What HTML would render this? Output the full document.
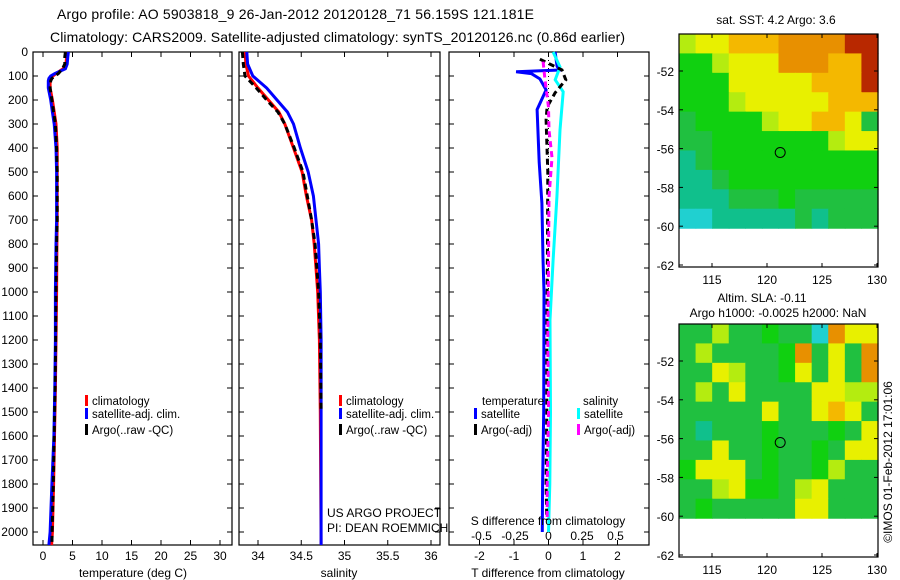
<!DOCTYPE html>
<html><head><meta charset="utf-8"><style>
html,body{margin:0;padding:0;background:#fff;width:900px;height:580px;overflow:hidden}
svg{display:block;font-family:"Liberation Sans",sans-serif}
text{font-size:12px;fill:#000}
</style></head><body>
<svg id="s" width="900" height="580" viewBox="0 0 900 580">
<text x="57" y="19" textLength="477" style="font-size:14px">Argo profile: AO 5903818_9 26-Jan-2012 20120128_71 56.159S 121.181E</text>
<text x="50" y="42" textLength="575" style="font-size:14px">Climatology: CARS2009. Satellite-adjusted climatology: synTS_20120126.nc (0.86d earlier)</text>
</svg>
<script>
// ---- data ----
const depthTicks=[0,100,200,300,400,500,600,700,800,900,1000,1100,1200,1300,1400,1500,1600,1700,1800,1900,2000];
const tempTicks=[0,5,10,15,20,25,30];
const salTicks=[34,34.5,35,35.5,36];
const salTickLabels=["34","34.5","35","35.5","36"];
const tdTicks=[-2,-1,0,1,2];
const sdTicks=[-0.5,-0.25,0,0.25,0.5];
const sdTickLabels=["-0.5","-0.25","0","0.25","0.5"];

const tDepth=[0,20,50,70,90,100,110,120,150,200,250,300,400,500,600,700,800,1000,1200,1400,1600,1800,2000,2054];
const tClim=[4.1,4.0,3.9,3.4,2.2,1.7,1.4,1.2,1.2,1.6,1.9,2.2,2.4,2.4,2.4,2.4,2.35,2.3,2.2,2.1,1.95,1.8,1.6,1.45];
const tSat=[4.3,4.2,4.1,3.8,2.0,1.3,1.0,0.9,0.9,1.3,1.6,1.9,2.2,2.3,2.3,2.3,2.2,2.1,2.1,2.0,1.85,1.5,1.2,1.0];
const tArgo=[3.8,3.7,3.7,3.3,2.6,2.0,1.5,1.3,1.2,1.5,1.8,2.1,2.3,2.4,2.4,2.4,2.3,2.2,2.15,2.05,1.9,1.75,1.55,1.5];

const sDepth=[0,50,100,150,200,250,300,400,500,600,700,800,900,1000,1200,1500,2054];
const sClim=[33.85,33.86,33.89,34.0,34.12,34.24,34.31,34.41,34.51,34.56,34.62,34.65,34.67,34.69,34.71,34.72,34.73];
const sSat=[33.87,33.88,33.94,34.1,34.22,34.34,34.41,34.49,34.58,34.64,34.67,34.70,34.71,34.72,34.73,34.73,34.73];
const sArgo=[33.82,33.83,33.85,33.98,34.1,34.23,34.31,34.42,34.52,34.57,34.62,34.66,34.68,34.70,34.72,34.73,34.73];

const dtSatDepth=[0,60,75,82,90,112,158,240,460,630,860,1000,1500,1800,2000];
const dtSat=[0.19,0.25,0.33,-0.94,-0.5,-0.25,-0.07,-0.33,-0.27,-0.19,-0.16,-0.13,-0.14,-0.17,-0.18];
const dsSatDepth=[0,62,116,166,325,604,867,1117,1500,1800,2000];
const dsSat=[0.034,0.086,0.05,0.11,0.086,0.063,0.034,0.011,0.015,0.01,0.0];
const dtArgoDepth=[30,75,116,170,229,283,500,800,1200,1500,1800,1950];
const dtArgo=[-0.25,0.39,0.5,0.19,-0.04,-0.07,-0.02,-0.03,-0.05,-0.05,-0.07,-0.05];
const dsArgoDepth=[40,116,229,325,440,604,880,1200,1500,1800,1950];
const dsArgo=[-0.04,-0.026,0,0.004,0.026,0.004,0,-0.005,0,-0.01,-0.01];

const lonTicks=[115,120,125,130];
const latTicks=[-52,-54,-56,-58,-60,-62];
const sstGrid=["lyyOOOoooorr","gglyyyoooOOr","gggyyyyyOOOr","ggglyyyyyOOO","GgggglyyOOy","GGggggggglyy","tGggggggggggl","ttGggggggggg","tttGGGgGGGGG","cctttttGtGGG"];
const slaGrid=["GGlGGgGGcoyy","GlGGGGgoGyGo","GGylGGgyGyGo","GlGyGGGGyyll","GGGGGyGGyOyG","GtGGGgGGGgGy","GGyGGgGGgGyy","gyyyGgGGglGG","GGlyggGlyGGG","GgGGGGGyyGGG"];
const colorMap={r:"#b82800",o:"#e89000",O:"#f4b800",y:"#e8f000",l:"#b4ec10",g:"#10d010",G:"#20c040",t:"#10c08c",c:"#20d0d0"};

// ---- drawing ----
const svg=document.getElementById('s');
const NS="http://www.w3.org/2000/svg";
function mk(tag,attrs,parent){const e=document.createElementNS(NS,tag);for(const k in attrs)e.setAttribute(k,attrs[k]);(parent||svg).appendChild(e);return e;}
function txt(x,y,s,anchor,parent,size){const t=mk('text',{x:x,y:y,'text-anchor':anchor||'start'},parent);if(size)t.style.fontSize=size+'px';t.textContent=s;return t;}

const Y=d=>52+d*0.24;
const TOP=52,BOT=545;
const xT=v=>43+v*5.9;
const xS=v=>258+(v-34)*86.5;
const xDT=v=>548.5+v*34.5;
const xDS=v=>548.5+v*134;

function panel(name,x0,x1){
  const g=mk('g',{});
  
  
  mk('rect',{x:x0,y:TOP,width:x1-x0,height:BOT-TOP,fill:'none',stroke:'#000','stroke-width':1.2},g);
  return g;
}
function series(g,name,depths,vals,xf,color,width,dash){
  const pts=depths.map((d,i)=>xf(vals[i]).toFixed(1)+','+Y(d).toFixed(1)).join(' ');
  const p=mk('polyline',{points:pts,fill:'none',stroke:color,'stroke-width':width,'stroke-linejoin':'miter'},g);
  if(dash)p.setAttribute('stroke-dasharray',dash);
  
  
}
function xticks(g,ticks,labels,xf,ly){
  ticks.forEach((t,i)=>{const x=xf(t);
    mk('line',{x1:x,y1:TOP,x2:x,y2:TOP+5,stroke:'#000'},g);
    mk('line',{x1:x,y1:BOT,x2:x,y2:BOT-5,stroke:'#000'},g);
    if(ly)txt(x,ly,labels[i],'middle',g);});
}
function legend(g,x,y,color,label){
  mk('rect',{x:x,y:y-10,width:3,height:11,fill:color},g);
  const t=txt(x+7,y,label,'start',g);
  t.style.fontSize='11.5px';
  
  
}

// Panel 1
const p1=panel('temperature-panel',33,232);
depthTicks.forEach(d=>{const y=Y(d);mk('line',{x1:33,y1:y,x2:38,y2:y,stroke:'#000'},p1);mk('line',{x1:232,y1:y,x2:227,y2:y,stroke:'#000'},p1);txt(28,y+4,String(d),'end',p1);});
xticks(p1,tempTicks,tempTicks.map(String),xT,560);
series(p1,'temp-climatology-line',tDepth,tClim,xT,'#ff0000',3);
series(p1,'temp-satellite-line',tDepth,tSat,xT,'#0000ff',3);
series(p1,'temp-argo-line',tDepth,tArgo,xT,'#000',3,'6,4');
txt(133,577,'temperature (deg C)','middle',p1);
legend(p1,85,405,'#ff0000','climatology');
legend(p1,85,418,'#0000ff','satellite-adj. clim.');
legend(p1,85,434,'#000','Argo(..raw -QC)');

// Panel 2
const p2=panel('salinity-panel',239,440);
depthTicks.forEach(d=>{const y=Y(d);mk('line',{x1:239,y1:y,x2:244,y2:y,stroke:'#000'},p2);mk('line',{x1:440,y1:y,x2:435,y2:y,stroke:'#000'},p2);});
xticks(p2,salTicks,salTickLabels,xS,560);
series(p2,'sal-climatology-line',sDepth,sClim,xS,'#ff0000',3);
series(p2,'sal-satellite-line',sDepth,sSat,xS,'#0000ff',3);
series(p2,'sal-argo-line',sDepth.slice(0,-1),sArgo.slice(0,-1),xS,'#000',3,'6,4');
txt(339,577,'salinity','middle',p2);
legend(p2,339,405,'#ff0000','climatology');
legend(p2,339,418,'#0000ff','satellite-adj. clim.');
legend(p2,339,434,'#000','Argo(..raw -QC)');
txt(327,517,'US ARGO PROJECT','start',p2);
txt(327,532,'PI: DEAN ROEMMICH','start',p2);

// Panel 3
const p3=panel('difference-panel',449,649);
depthTicks.forEach(d=>{const y=Y(d);mk('line',{x1:449,y1:y,x2:454,y2:y,stroke:'#000'},p3);mk('line',{x1:649,y1:y,x2:644,y2:y,stroke:'#000'},p3);});
xticks(p3,tdTicks,tdTicks.map(String),xDT,560);
sdTicks.forEach((t,i)=>txt(xDS(t),540,sdTickLabels[i],'middle',p3));
mk('line',{x1:548.5,y1:TOP,x2:548.5,y2:Y(1000),stroke:'#000','stroke-dasharray':'1,3'},p3);
series(p3,'dt-satellite-line',dtSatDepth,dtSat,xDT,'#0000ff',3);
series(p3,'ds-satellite-line',dsSatDepth,dsSat,xDS,'#00ffff',3);
series(p3,'dt-argo-line',dtArgoDepth,dtArgo,xDT,'#000',3,'6,4');
series(p3,'ds-argo-line',dsArgoDepth,dsArgo,xDS,'#ff00ff',3,'6,4');
txt(548,525,'S difference from climatology','middle',p3);
txt(548,577,'T difference from climatology','middle',p3);
txt(482,405,'temperature','start',p3).style.fontSize='11.5px';
txt(583,405,'salinity','start',p3).style.fontSize='11.5px';
legend(p3,474,418,'#0000ff','satellite');
legend(p3,474,434,'#000','Argo(-adj)');
legend(p3,577,418,'#00ffff','satellite');
legend(p3,577,434,'#ff00ff','Argo(-adj)');

// Maps
function map(name,top,grid){
  const g=mk('g',{});
  
  
  const x0=679,x1=878;
  const latY=l=>top+37+(-52-l)*19.4;
  const cols=12, rows=grid.length;
  const cw=(x1-x0)/cols, yTop=top, yBot=latY(-60.1), ch=(yBot-yTop)/rows;
  grid.forEach((row,r)=>{for(let c=0;c<cols;c++){
    const cell=mk('rect',{x:(x0+c*cw).toFixed(2),y:(yTop+r*ch).toFixed(2),width:(cw+0.6).toFixed(2),height:(ch+0.6).toFixed(2),fill:colorMap[row[c]]||'#20c040'},g);
    
    
  }});
  const bottom=top+233;
  mk('rect',{x:x0,y:top,width:x1-x0,height:bottom-top,fill:'none',stroke:'#000','stroke-width':1.2},g);
  latTicks.forEach(l=>{const y=latY(l);mk('line',{x1:x0,y1:y,x2:x0+4,y2:y,stroke:'#000'},g);mk('line',{x1:x1,y1:y,x2:x1-4,y2:y,stroke:'#000'},g);txt(674,y+5,String(l),'end',g);});
  lonTicks.forEach(l=>{const xx=712+(l-115)*11;mk('line',{x1:xx,y1:top,x2:xx,y2:top+4,stroke:'#000'},g);mk('line',{x1:xx,y1:bottom,x2:xx,y2:bottom-4,stroke:'#000'},g);txt(xx,bottom+17,String(l),'middle',g);});
  mk('circle',{cx:712+6.2*11,cy:latY(-56.2),r:5,fill:'none',stroke:'#000','stroke-width':1},g);
  return g;
}
map('sst-map',34,sstGrid);
txt(776,24,'sat. SST: 4.2 Argo: 3.6','middle');
map('sla-map',324,slaGrid);
txt(762,302,'Altim. SLA: -0.11','middle');
txt(778,317,'Argo h1000: -0.0025 h2000: NaN','middle');
const cr=txt(0,0,'©IMOS 01-Feb-2012 17:01:06','middle');
cr.setAttribute('transform','translate(892,462) rotate(-90)');


</script>
</body></html>
